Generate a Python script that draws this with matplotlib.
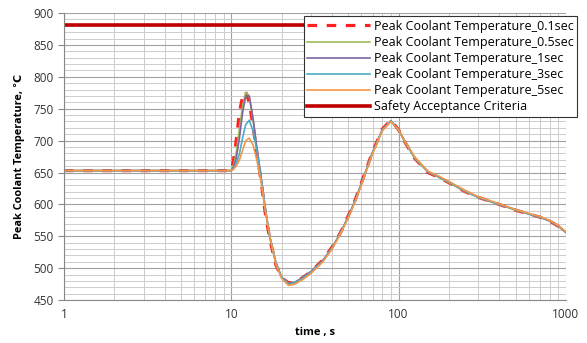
import matplotlib
matplotlib.use('Agg')
import matplotlib.pyplot as plt
from matplotlib.ticker import FixedLocator, NullFormatter

plt.rcParams['font.family'] = ['Open Sans', 'DejaVu Sans']

# time, s
t = [1, 10, 10.3, 10.7, 11.2, 11.7, 12.2, 12.8, 13.5, 14.2, 15, 16, 17, 18.5,
     20, 22, 24, 27, 30, 35, 40, 45, 50, 55, 60, 70, 80, 90, 100, 110, 125,
     150, 175, 200, 250, 300, 400, 500, 600, 700, 800, 900, 1000]

tail = [477, 478, 486, 495, 512, 533, 556, 582, 607, 634, 683, 718, 732, 717,
        696, 672, 650, 642, 634, 620, 611, 600, 591, 585, 580, 574, 566, 556]

temp_01 = [653, 653, 668, 700, 745, 770, 777, 760, 722, 682, 640, 585, 545,
           505, 485] + tail
temp_05 = [653, 653, 660, 680, 720, 755, 776, 770, 732, 688, 645, 590, 548,
           507, 486] + [476, 478, 486, 495, 511, 532, 556, 581, 606, 633, 682,
                        717, 731, 716, 696, 672, 651, 642, 634, 620, 611, 600,
                        591, 585, 580, 574, 566, 556]
temp_1 = [653, 653, 658, 672, 705, 745, 770, 770, 735, 690, 647, 592, 549,
          508, 486] + [476, 478, 486, 495, 511, 532, 555, 581, 606, 633, 682,
                       717, 731, 717, 697, 673, 651, 643, 635, 621, 611, 600,
                       592, 585, 580, 574, 566, 556]
temp_3 = [653, 653, 656, 663, 680, 705, 725, 732, 715, 685, 645, 592, 550,
          508, 486] + [475, 477, 485, 494, 510, 531, 555, 580, 605, 632, 681,
                       717, 731, 717, 697, 673, 651, 643, 635, 621, 611, 600,
                       592, 585, 580, 575, 567, 557]
temp_5 = [653, 653, 655, 660, 670, 685, 700, 704, 693, 670, 638, 590, 549,
          506, 484] + [473, 475, 483, 492, 509, 530, 554, 579, 604, 631, 680,
                       716, 730, 717, 697, 674, 652, 644, 636, 622, 612, 601,
                       592, 586, 581, 575, 567, 557]
criteria = 882

series = [
    ('Peak Coolant Temperature_0.1sec', temp_01, '#ff2020'),
    ('Peak Coolant Temperature_0.5sec', temp_05, '#9bbb59'),
    ('Peak Coolant Temperature_1sec', temp_1, '#8064a2'),
    ('Peak Coolant Temperature_3sec', temp_3, '#4bacc6'),
    ('Peak Coolant Temperature_5sec', temp_5, '#f79646'),
]

fig = plt.figure(figsize=(5.87, 3.43), dpi=100)
ax = fig.add_axes([0.109, 0.125, 0.855, 0.837])

for i, (name, vals, col) in enumerate(series):
    if i == 0:
        ax.plot(t, vals, color=col, lw=2.3, dashes=(3, 3), label=name)
    else:
        ax.plot(t, vals, color=col, lw=1.2, label=name)
ax.plot([1, 1000], [criteria, criteria], color='#c00000', lw=2.6,
        label='Safety Acceptance Criteria')

ax.set_xscale('log')
ax.set_xlim(1, 1000)
ax.set_ylim(450, 900)
ax.set_yticks(range(450, 901, 50))
ax.yaxis.set_minor_locator(FixedLocator(range(450, 901, 10)))
minor_x = [m * d for d in (1, 10, 100) for m in range(2, 10)]
ax.set_xticks([1, 10, 100, 1000])
ax.set_xticklabels(['1', '10', '100', '1000'])
ax.xaxis.set_minor_locator(FixedLocator(minor_x))
ax.xaxis.set_minor_formatter(NullFormatter())

ax.grid(True, which='major', color='#a0a0a0', lw=0.8)
ax.grid(True, which='minor', color='#cccccc', lw=0.7)
ax.set_axisbelow(True)
for s in ax.spines.values():
    s.set_visible(False)
ax.spines['left'].set_visible(True)
ax.spines['left'].set_color('#888888')
ax.spines['bottom'].set_visible(True)
ax.spines['bottom'].set_color('#888888')
ax.tick_params(axis='y', which='major', length=4, color='#888888',
               labelsize=8.5, labelcolor='#333333')
ax.tick_params(axis='y', which='minor', length=0)
ax.tick_params(axis='x', which='both', length=0, labelsize=8.5,
               labelcolor='#333333', pad=6)

ax.set_xlabel('time , s', fontsize=8, fontweight='bold', labelpad=4)
ax.set_ylabel('Peak Coolant Temperature, ℃', fontsize=7.8,
              fontweight='bold', labelpad=6)

leg = ax.legend(loc='upper right', bbox_to_anchor=(0.983, 0.953),
                bbox_transform=fig.transFigure, fontsize=9, frameon=True,
                fancybox=False, framealpha=1, edgecolor='#333333',
                borderpad=0.3, labelspacing=0.25, handlelength=5,
                handletextpad=0.3, borderaxespad=0)
leg.get_frame().set_linewidth(0.8)

fig.savefig('out.png', dpi=100)
